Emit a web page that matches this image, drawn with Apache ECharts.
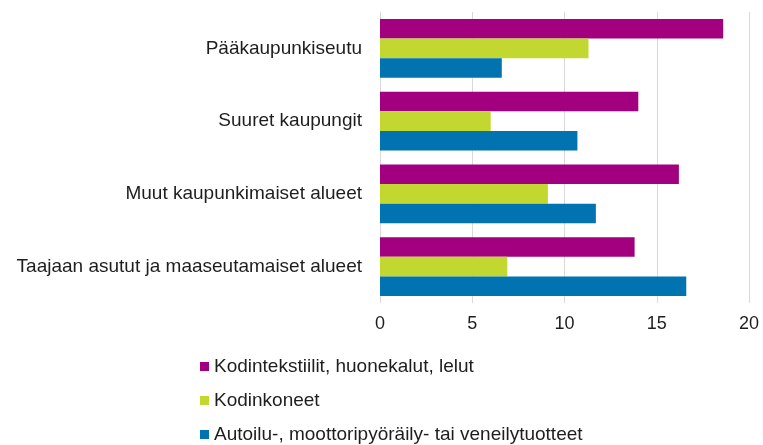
<!DOCTYPE html>
<html lang="fi">
<head>
    <meta charset="utf-8">
    <title>Alueet</title>
    <script src="https://cdn.jsdelivr.net/npm/echarts@6/dist/echarts.min.js"></script>
    <style>
        html, body { margin: 0; padding: 0; background: #fff; }
        #main { width: 763px; height: 445px; }
    </style>
</head>
<body>
<div id="main"></div>
<script type="text/javascript">
// alueet ylhäältä alas
var categories = ['Pääkaupunkiseutu', 'Suuret kaupungit', 'Muut kaupunkimaiset alueet', 'Taajaan asutut ja maaseutamaiset alueet'];
var seriesNames = ['Kodintekstiilit, huonekalut, lelut', 'Kodinkoneet', 'Autoilu-, moottoripyöräily- tai veneilytuotteet'];
var kodintekstiilit = [18.6, 14.0, 16.2, 13.8];
var kodinkoneet = [11.3, 6.0, 9.1, 6.9];
var autoilu = [6.6, 10.7, 11.7, 16.6];
var xTicks = [0, 5, 10, 15, 20];

var colors = ['#a3007f', '#c2d72f', '#0073b0'];
var values = [kodintekstiilit, kodinkoneet, autoilu];

var myChart = echarts.init(document.getElementById('main'));

var series = [];
for (var i = 0; i < seriesNames.length; i++) {
    series.push({
        name: seriesNames[i],
        type: 'bar',
        data: values[i],
        barGap: '0%',
        barCategoryGap: '19%',
        itemStyle: { color: colors[i] }
    });
}

var option = {
    animation: false,
    color: colors,
    textStyle: { fontFamily: 'Liberation Sans, Arial, sans-serif' },
    grid: { left: 380, right: 14, top: 12, bottom: 142 },
    legend: {
        orient: 'vertical',
        left: 200,
        top: 357,
        height: 120,
        padding: 0,
        icon: 'rect',
        itemWidth: 9,
        itemHeight: 9,
        itemGap: 15,
        textStyle: { fontSize: 19, color: '#1e1e1e' },
        data: seriesNames
    },
    xAxis: {
        type: 'value',
        min: xTicks[0],
        max: xTicks[xTicks.length - 1],
        interval: 5,
        axisLine: { show: false },
        axisTick: { show: false },
        axisLabel: { fontSize: 18, color: '#1e1e1e', margin: 12 },
        splitLine: { lineStyle: { color: '#d9d9d9' } }
    },
    yAxis: {
        type: 'category',
        inverse: true,
        data: categories,
        axisLine: { show: false },
        axisTick: { show: false },
        axisLabel: { fontSize: 19, color: '#1e1e1e', margin: 18 }
    },
    series: series
};

myChart.setOption(option);
</script>
</body>
</html>
